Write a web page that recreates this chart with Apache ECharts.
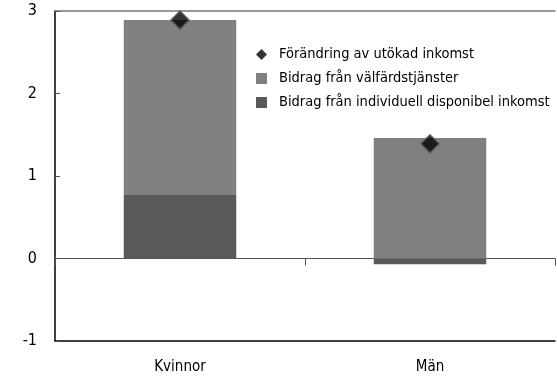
<!DOCTYPE html>
<html>
<head>
<meta charset="utf-8">
<script src="https://cdn.jsdelivr.net/npm/echarts@6/dist/echarts.min.js"></script>
<style>
  html, body { margin: 0; padding: 0; background: #fff; }
  #chart { width: 557px; height: 378px; }
</style>
</head>
<body>
<div id="chart"></div>
<script>
// Categories and values (percentage points)
const categories = ['Kvinnor', 'Män'];
const individuellInkomst = [0.78, -0.07];   // Bidrag från individuell disponibel inkomst
const valfardstjanster = [2.11, 1.46];      // Bidrag från välfärdstjänster
const utokadInkomst = [2.89, 1.39];         // Förändring av utökad inkomst
const yTicks = [-1, 0, 1, 2, 3];

const FONT = '"Liberation Sans Narrow", "DejaVu Sans Condensed", sans-serif';

const chart = echarts.init(document.getElementById('chart'), null, { renderer: 'canvas' });

chart.setOption({
  animation: false,
  backgroundColor: '#ffffff',
  textStyle: { fontFamily: FONT },
  grid: { left: 55, right: 2, top: 11, bottom: 37, containLabel: false },
  legend: {
    orient: 'vertical',
    left: 256,
    top: 47,
    padding: 0,
    itemGap: 9,
    itemWidth: 11,
    itemHeight: 11,
    textStyle: { fontFamily: FONT, fontSize: 14.5, color: '#000', padding: [0, 0, 0, 7] },
    data: [
      { name: 'Förändring av utökad inkomst', icon: 'diamond', itemStyle: { color: '#000', borderWidth: 0 } },
      { name: 'Bidrag från välfärdstjänster', icon: 'rect', itemStyle: { borderWidth: 0 } },
      { name: 'Bidrag från individuell disponibel inkomst', icon: 'rect', itemStyle: { borderWidth: 0 } }
    ]
  },
  xAxis: [
    {
      type: 'category',
      data: categories,
      position: 'bottom',
      axisLine: { onZero: false, lineStyle: { color: '#000', width: 1.5 } },
      axisTick: { show: false },
      axisLabel: { fontFamily: FONT, fontSize: 15, color: '#000', margin: 19 },
      splitLine: { show: false }
    },
    {
      type: 'category',
      data: categories,
      position: 'bottom',
      axisLine: { onZero: true, lineStyle: { color: '#555', width: 1 } },
      axisTick: { show: true, length: 7, inside: false, lineStyle: { color: '#555' } },
      axisLabel: { show: false },
      splitLine: { show: false }
    },
    {
      type: 'category',
      data: categories,
      position: 'top',
      axisLine: { show: true, lineStyle: { color: '#777', width: 1.5 } },
      axisTick: { show: false },
      axisLabel: { show: false },
      splitLine: { show: false }
    }
  ],
  yAxis: {
    type: 'value',
    min: yTicks[0],
    max: yTicks[yTicks.length - 1],
    interval: 1,
    axisLine: { show: true, lineStyle: { color: '#000', width: 1.5 } },
    axisTick: { show: true, inside: true, length: 5, lineStyle: { color: '#555' } },
    axisLabel: { fontFamily: FONT, fontSize: 16, color: '#000', margin: 18 },
    splitLine: { show: false }
  },
  series: [
    {
      name: 'Bidrag från individuell disponibel inkomst',
      type: 'bar',
      stack: 'bidrag',
      barWidth: '45%',
      itemStyle: { color: '#595959' },
      data: individuellInkomst,
      z: 2
    },
    {
      name: 'Bidrag från välfärdstjänster',
      type: 'bar',
      stack: 'bidrag',
      barWidth: '45%',
      itemStyle: { color: '#808080' },
      data: valfardstjanster,
      z: 2
    },
    {
      name: 'Förändring av utökad inkomst',
      type: 'scatter',
      symbol: 'diamond',
      symbolSize: 18,
      itemStyle: { color: '#000', borderColor: '#555', borderWidth: 1.5 },
      data: utokadInkomst,
      z: 5
    }
  ]
});
</script>
</body>
</html>
